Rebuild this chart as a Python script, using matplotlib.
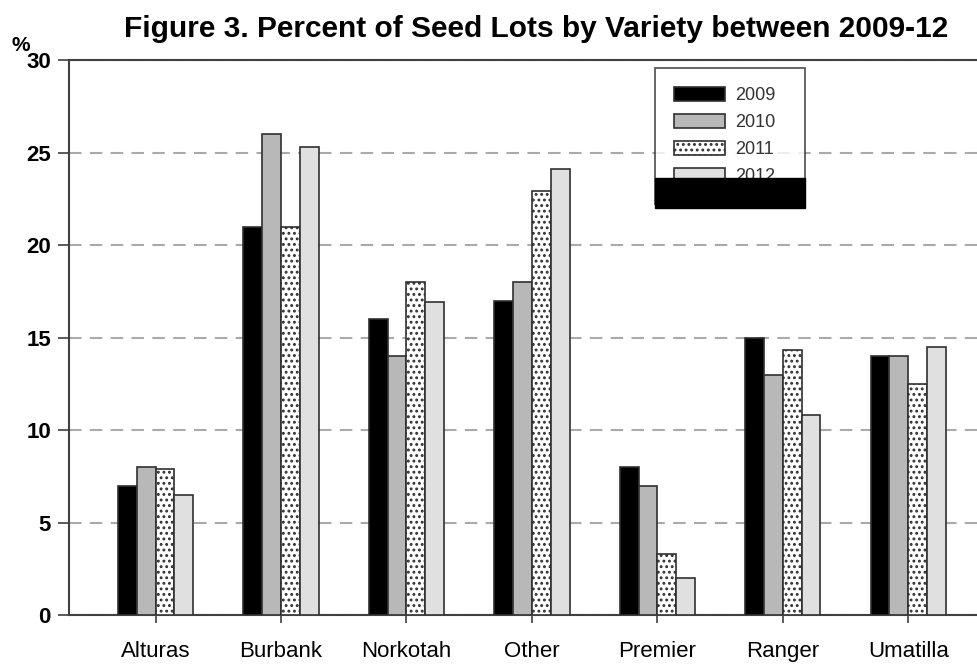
import matplotlib
matplotlib.use("Agg")
import matplotlib.pyplot as plt
import matplotlib.patches as mpatches
import numpy as np

# data
varieties = ['Alturas', 'Burbank', 'Norkotah', 'Other', 'Premier', 'Ranger', 'Umatilla']
years = ['2009', '2010', '2011', '2012']
pct_2009 = [7, 21, 16, 17, 8, 15, 14]
pct_2010 = [8, 26, 14, 18, 7, 13, 14]
pct_2011 = [7.9, 21, 18, 22.9, 3.3, 14.3, 12.5]
pct_2012 = [6.5, 25.3, 16.9, 24.1, 2, 10.8, 14.5]

plt.rcParams['font.family'] = ['Liberation Sans', 'DejaVu Sans']
plt.rcParams['hatch.linewidth'] = 1.3

fig = plt.figure(figsize=(9.77, 6.64), dpi=100)
ax = fig.add_axes([0.0706, 0.0738, 0.94, 0.8358])

x = np.arange(len(varieties))
w = 0.15
series = [pct_2009, pct_2010, pct_2011, pct_2012]
fills = ['black', '#b8b8b8', 'white', '#e0e0e0']
hatches = [None, None, '...', None]
for i, vals in enumerate(series):
    ax.bar(x + (i - 1.5) * w, vals, w, color=fills[i], edgecolor='#303030',
           linewidth=1.2, hatch=hatches[i], label=years[i], zorder=3)

ax.set_ylim(0, 30)
ax.set_xlim(-0.69, 6.63)
ax.set_yticks(range(0, 31, 5))
ax.set_xticks(x)
ax.set_xticklabels(varieties, fontsize=16)
for lab in ax.get_yticklabels():
    lab.set_fontsize(16)
    lab.set_fontweight('bold')
ax.tick_params(axis='y', length=8, width=1.2, color='#404040', pad=5)
ax.tick_params(axis='x', length=6, width=1.2, color='#404040', pad=13)
ax.yaxis.grid(True, linestyle=(0, (6, 4)), color='#aaaaaa', linewidth=1.5, zorder=0)
for s in ['left', 'bottom', 'top']:
    ax.spines[s].set_color('#404040')
    ax.spines[s].set_linewidth(1.5)
ax.spines['right'].set_visible(False)

fig.text(0.549, 0.957, 'Figure 3. Percent of Seed Lots by Variety between 2009-12',
         ha='center', va='center', fontsize=21.5, fontweight='bold')
fig.text(0.012, 0.932, '%', ha='left', va='center', fontsize=15, fontweight='bold')

leg = ax.legend(loc='upper left', bbox_to_anchor=(655 / 977, 1 - 208 / 664, 150 / 977, 140 / 664),
                bbox_transform=fig.transFigure, mode='expand', borderaxespad=0,
                fontsize=13, frameon=True, fancybox=False, edgecolor='#303030',
                handlelength=2.8, handleheight=0.85, labelspacing=0.53,
                borderpad=1.05, handletextpad=0.6)
leg.get_frame().set_linewidth(1.3)
leg.set_zorder(5)
for t in leg.get_texts():
    t.set_color('#333333')

# black band covering the bottom of the legend box
fig.patches.append(mpatches.Rectangle((655 / 977, 1 - 208 / 664), 150 / 977, 30 / 664,
                                      transform=fig.transFigure, color='black', zorder=10))

fig.savefig('out.png', dpi=100)
